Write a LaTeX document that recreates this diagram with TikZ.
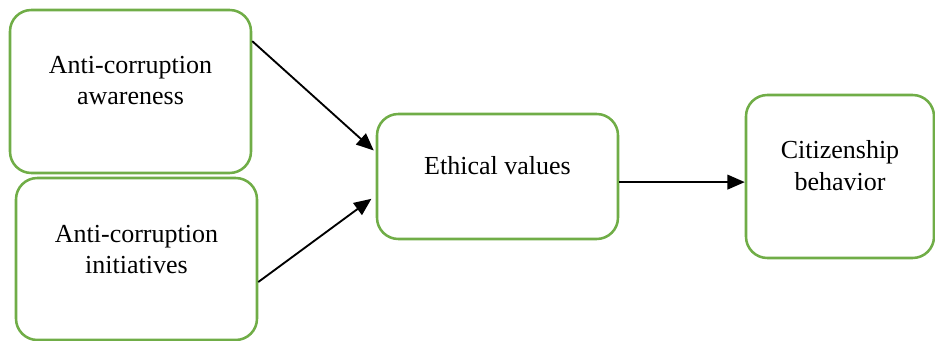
\documentclass[tikz,border=0pt]{standalone}
\usepackage{fontspec}
\setmainfont{Liberation Serif}
\usetikzlibrary{arrows.meta,calc}
\definecolor{boxgreen}{RGB}{112,173,71}
\tikzset{
  box/.style={draw=boxgreen, line width=1.9pt, rounded corners=16pt, fill=white, inner sep=0pt},
  txt/.style={align=center, inner sep=0pt, font=\fontsize{19.5}{23.5}\selectfont},
  conn/.style={line width=1.4pt, -{Triangle[length=13pt,width=11pt]}}
}
\begin{document}
\begin{tikzpicture}[x=0.75pt,y=-0.75pt]
\useasboundingbox (0,0) rectangle (935,341);
\node[box, minimum width=180.75pt, minimum height=122.25pt] (a) at (130.5,91.5) {};
\node[box, minimum width=180.75pt, minimum height=121.5pt] (b) at (136.5,259) {};
\node[box, minimum width=180.75pt, minimum height=93.75pt] (c) at (497.5,176.5) {};
\node[box, minimum width=141pt, minimum height=122.25pt] (d) at (840,176.5) {};
\node[txt] (at) at (130.5,80.5) {Anti-corruption\\awareness};
\node[txt] (bt) at (136.5,249.5) {Anti-corruption\\initiatives};
\node[txt] (ct) at (497.5,166) {Ethical values};
\node[txt] (dt) at (840,165.5) {Citizenship\\behavior};
\coordinate (a1) at ($(a.north east)!0.196!(a.south east)$);
\coordinate (c1) at ($(c.north west)!0.31!(c.south west)$);
\coordinate (b1) at ($(b.north east)!0.64!(b.south east)$);
\coordinate (c2) at ($(c.north west)!0.65!(c.south west)$);
\coordinate (c3) at ($(c.north east)!0.544!(c.south east)$);
\draw[conn, shorten >=2pt] (a1) -- (c1);
\draw[conn, shorten >=4pt] (b1) -- (c2);
\draw[conn] (c3) -- (c3 -| d.west);
\end{tikzpicture}
\end{document}
